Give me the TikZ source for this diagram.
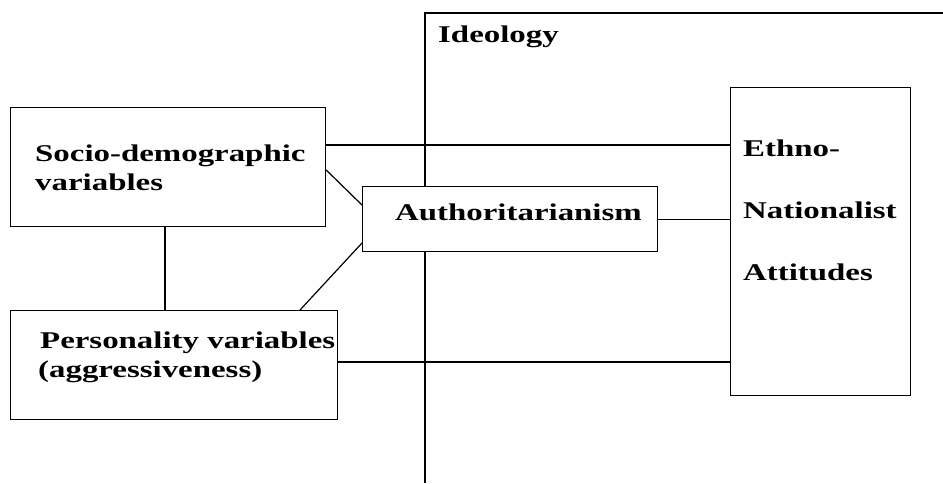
\documentclass[tikz,border=0pt]{standalone}
\usepackage{fontspec}
\setmainfont{Liberation Serif}[FakeStretch=1.37]
\usetikzlibrary{positioning}
\tikzset{
	box/.style={draw, line width=1.2pt, inner sep=0pt, anchor=north west},
	txt/.style={inner sep=0pt, anchor=base west, font=\fontsize{24}{28}\selectfont\bfseries},
	link/.style={line width=1.2pt}
}

\begin{document}
\begin{tikzpicture}[x=1pt, y=-1pt]
			%%%%% START %%%%%
			\useasboundingbox (0, 0) rectangle (943, 483);
			
			% ideology frame
			\coordinate (idtop) at (425, 13);
			\coordinate (idbot) at (425, 483);
			\coordinate (idright) at (943, 13);
			\draw[link] (idbot) -- (idtop) -- (idright);
			\node[txt] (ideo) at (438, 42) {Ideology};
			
			% boxes
			\node[box, minimum width=315, minimum height=119] (socio) at (10, 107) {};
			\node[box, minimum width=327, minimum height=109] (pers) at (10, 310) {};
			\node[box, minimum width=295, minimum height=65, fill=white] (auth) at (362, 186) {};
			\node[box, minimum width=180, minimum height=308] (ethno) at (730, 87) {};
			
			\node[txt] (sociot) at (35, 161) {Socio-demographic};
			\node[txt] (sociob) at (35, 190) {variables};
			\node[txt] (perst) at (40, 348) {Personality variables};
			\node[txt] (persb) at (38, 377) {(aggressiveness)};
			\node[txt] (autht) at (395, 220) {Authoritarianism};
			\node[txt] (ethnoa) at (743, 156) {Ethno-};
			\node[txt] (ethnob) at (743, 218) {Nationalist};
			\node[txt] (ethnoc) at (743, 280) {Attitudes};
			
			% connectors
			\draw[link] (socio.north east |- 0, 145) -- (ethno.north west |- 0, 145);
			\draw[link] (auth.east) -- (auth.east -| ethno.west);
			\draw[link] (pers.north east |- 0, 362) -- (ethno.north west |- 0, 362);
			\draw[link] (socio.south -| 165, 0) -- (pers.north -| 165, 0);
			\draw[link] (socio.north east |- 0, 170) -- (auth.north west |- 0, 205);
			\draw[link] (auth.north west |- 0, 243) -- (pers.north west -| 300, 0);
			
			%%%%% END %%%%%
		\end{tikzpicture}
\end{document}
